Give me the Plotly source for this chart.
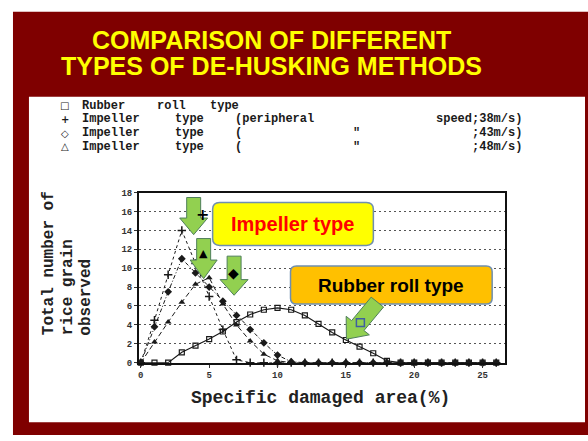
import math
import plotly.graph_objects as go

W, H = 588, 441

# ---------------- data ----------------
x_vals = [0, 1, 2, 3, 4, 5, 6, 7, 8, 9, 10, 11, 12, 13, 14, 15, 16, 17, 18, 19, 20, 21, 22, 23, 24, 25, 26]
rubber = [0, 0, 0, 1.1, 1.8, 2.5, 3.3, 4.3, 5.1, 5.6, 5.8, 5.6, 5.0, 4.1, 3.2, 2.4, 1.7, 1.0, 0.2, 0, 0, 0, 0, 0, 0, 0, 0]
imp38 = [0, 4.5, 9.3, 14.0, 10.5, 7.0, 3.5, 0.3, 0, 0, 0, 0, 0, 0, 0, 0, 0, 0, 0, 0, 0, 0, 0, 0, 0, 0, 0]
imp43 = [0, 3.8, 7.5, 11.0, 9.5, 8.0, 6.5, 5.0, 3.5, 2.1, 0.8, 0.1, 0, 0, 0, 0, 0, 0, 0, 0, 0, 0, 0, 0, 0, 0, 0]
imp48 = [0, 2.2, 4.3, 6.4, 8.3, 9.0, 6.2, 4.0, 2.3, 0.9, 0.2, 0, 0, 0, 0, 0, 0, 0, 0, 0, 0, 0, 0, 0, 0, 0, 0]
x_ticks = [0, 5, 10, 15, 20, 25]
y_ticks = [0, 2, 4, 6, 8, 10, 12, 14, 16, 18]

title_lines = ["COMPARISON OF DIFFERENT", "TYPES OF DE-HUSKING METHODS"]
x_title = "Specific damaged area(%)"
y_title_lines = ["Total number of", "rice grain", "observed"]

# ---------------- helpers (pixel -> paper) ----------------
def X(p):
    return p / W

def Y(p):
    return 1 - p / H

def path_from(points, closed=True):
    s = "M %.5f %.5f" % (X(points[0][0]), Y(points[0][1]))
    for (a, b) in points[1:]:
        s += " L %.5f %.5f" % (X(a), Y(b))
    if closed:
        s += " Z"
    return s

def rounded_rect(x0, y0, x1, y1, r):
    def P(a, b):
        return "%.5f %.5f" % (X(a), Y(b))
    return ("M " + P(x0 + r, y0) + " L " + P(x1 - r, y0) + " Q " + P(x1, y0) + " " + P(x1, y0 + r) +
            " L " + P(x1, y1 - r) + " Q " + P(x1, y1) + " " + P(x1 - r, y1) +
            " L " + P(x0 + r, y1) + " Q " + P(x0, y1) + " " + P(x0, y1 - r) +
            " L " + P(x0, y0 + r) + " Q " + P(x0, y0) + " " + P(x0 + r, y0) + " Z")

def arrow(tx, ty, px_, py_, bw, hw, hl):
    dx, dy = px_ - tx, py_ - ty
    L = math.hypot(dx, dy)
    ux, uy = dx / L, dy / L
    nx, ny = -uy, ux
    hbx, hby = px_ - ux * hl, py_ - uy * hl
    pts = [(tx + nx * bw, ty + ny * bw), (hbx + nx * bw, hby + ny * bw), (hbx + nx * hw, hby + ny * hw),
           (px_, py_), (hbx - nx * hw, hby - ny * hw), (hbx - nx * bw, hby - ny * bw),
           (tx - nx * bw, ty - ny * bw)]
    return path_from(pts)

fig = go.Figure()

ink = "#1a1a1a"
fig.add_trace(go.Scatter(x=x_vals, y=rubber, mode="lines+markers", name="Rubber roll type",
                         line=dict(color=ink, width=1.2),
                         marker=dict(symbol="square-open", size=5, color=ink, line=dict(width=1.2)),
                         cliponaxis=False))
fig.add_trace(go.Scatter(x=x_vals, y=imp38, mode="lines+markers", name="Impeller type 38m/s",
                         line=dict(color=ink, width=1, dash="dot"),
                         marker=dict(symbol="cross-thin-open", size=6, color=ink, line=dict(width=1.5, color=ink)),
                         cliponaxis=False))
fig.add_trace(go.Scatter(x=x_vals, y=imp43, mode="lines+markers", name="Impeller type 43m/s",
                         line=dict(color=ink, width=1, dash="4px,2px,1px,2px"),
                         marker=dict(symbol="diamond", size=6, color=ink),
                         cliponaxis=False))
fig.add_trace(go.Scatter(x=x_vals, y=imp48, mode="lines+markers", name="Impeller type 48m/s",
                         line=dict(color=ink, width=1, dash="5px,3px"),
                         marker=dict(symbol="triangle-up", size=6, color=ink),
                         cliponaxis=False))

shapes = []
# dark red slide background and white panel
shapes.append(dict(type="rect", xref="paper", yref="paper", x0=X(12), x1=X(588), y0=Y(441), y1=Y(8),
                   fillcolor="#7F0000", line=dict(width=0), layer="below"))
shapes.append(dict(type="rect", xref="paper", yref="paper", x0=X(28), x1=X(585), y0=Y(428), y1=Y(95),
                   fillcolor="#FFFFFF", line=dict(width=0), layer="below"))

green = "#92D050"
gborder = "#4F7F5A"
# callout boxes
shapes.append(dict(type="path", xref="paper", yref="paper", path=rounded_rect(212, 203, 373, 247, 7),
                   fillcolor="#FFFF00", line=dict(color="#6F8FAF", width=1.5), layer="above"))
shapes.append(dict(type="path", xref="paper", yref="paper", path=rounded_rect(290, 268, 492, 307, 6),
                   fillcolor="#FFC000", line=dict(color="#6F8FAF", width=1.5), layer="above"))
# green arrows
for a in [(193, 198, 193, 236, 7, 14, 17), (203, 240, 203, 281, 7, 13.5, 19),
          (233.5, 258, 233.5, 298, 7, 14, 16), (377, 305, 346, 343, 8, 15, 18)]:
    shapes.append(dict(type="path", xref="paper", yref="paper", path=arrow(*a),
                       fillcolor=green, line=dict(color=gborder, width=1), layer="above"))
# square marker on rubber-roll arrow
shapes.append(dict(type="rect", xref="paper", yref="paper", x0=X(356), x1=X(364), y0=Y(330), y1=Y(322),
                   fillcolor=green, line=dict(color="#3F5F9F", width=1.5), layer="above"))

ann = []
# title
for txt, yy in zip(title_lines, [37, 63]):
    ann.append(dict(text=txt, x=X(271), y=Y(yy), xref="paper", yref="paper", showarrow=False,
                    xanchor="center", yanchor="middle",
                    font=dict(family="Liberation Sans", size=25, color="#FFFF00", weight="bold")))

# legend-like text block
mono = dict(family="Liberation Mono", size=12, color="#1a1a1a", weight="bold")
rows = [104, 118, 132, 146]
symbols = ["□", "+", "◇", "△"]
for s, yy in zip(symbols, rows):
    ann.append(dict(text=s, x=X(64), y=Y(yy), xref="paper", yref="paper", showarrow=False,
                    xanchor="center", yanchor="middle", borderpad=0,
                    font=dict(family="DejaVu Sans", size=10, color="#1a1a1a", weight="bold")))
words = [
    (0, "Rubber", 80), (0, "roll", 155), (0, "type", 208),
    (1, "Impeller", 80), (1, "type", 173), (1, "(peripheral", 233),
    (2, "Impeller", 80), (2, "type", 173), (2, "(", 233),
    (3, "Impeller", 80), (3, "type", 173), (3, "(", 233),
]
for r, w, xx in words:
    ann.append(dict(text=w, x=X(xx), y=Y(rows[r]), xref="paper", yref="paper", showarrow=False,
                    xanchor="left", yanchor="middle", borderpad=0, font=mono))
for r, w in [(1, "speed;38m/s)"), (2, ";43m/s)"), (3, ";48m/s)")]:
    ann.append(dict(text=w, x=X(523), y=Y(rows[r]), xref="paper", yref="paper", showarrow=False,
                    xanchor="right", yanchor="middle", borderpad=0, font=mono))
for r in [2, 3]:
    ann.append(dict(text='"', x=X(356), y=Y(rows[r]), xref="paper", yref="paper", showarrow=False,
                    xanchor="center", yanchor="middle", borderpad=0, font=mono))

# axis titles
ann.append(dict(text=x_title, x=X(320), y=Y(403), xref="paper", yref="paper", showarrow=False,
                xanchor="center", yanchor="middle",
                font=dict(family="Liberation Mono", size=18, color="#222222", weight="bold")))
for txt, xx in zip(y_title_lines, [48, 67, 85]):
    ann.append(dict(text=txt, x=X(xx), y=Y(340), xref="paper", yref="paper", showarrow=False,
                    textangle=-90, xanchor="center", yanchor="bottom", borderpad=0,
                    font=dict(family="Liberation Mono", size=16, color="#222222", weight="bold")))

# callout texts
ann.append(dict(text="Impeller type", x=X(292), y=Y(225), xref="paper", yref="paper", showarrow=False,
                xanchor="center", yanchor="middle",
                font=dict(family="Liberation Sans", size=20, color="#FF0000", weight="bold")))
ann.append(dict(text="Rubber roll type", x=X(391), y=Y(288), xref="paper", yref="paper", showarrow=False,
                xanchor="center", yanchor="middle",
                font=dict(family="Liberation Sans", size=19, color="#000000", weight="bold")))
# symbols on arrows
ann.append(dict(text="+", x=X(193), y=Y(215), xref="paper", yref="paper", showarrow=False,
                font=dict(family="DejaVu Sans", size=16, color="#000000", weight="bold")))
ann.append(dict(text="▲", x=X(203), y=Y(255), xref="paper", yref="paper", showarrow=False,
                font=dict(family="DejaVu Sans", size=11, color="#000000")))
ann.append(dict(text="◆", x=X(233), y=Y(275), xref="paper", yref="paper", showarrow=False,
                font=dict(family="DejaVu Sans", size=14, color="#000000")))

tickfont = dict(family="Liberation Mono", size=9, color="#333333", weight="bold")
fig.update_layout(
    width=W, height=H,
    margin=dict(l=0, r=0, t=0, b=0),
    paper_bgcolor="#FFFFFF",
    plot_bgcolor="rgba(0,0,0,0)",
    showlegend=False,
    shapes=shapes,
    annotations=ann,
    xaxis=dict(domain=[X(138), X(505)], range=[-0.15, 26.65], tickvals=x_ticks,
               ticktext=[str(v) for v in x_ticks], showgrid=False, zeroline=False,
               showline=True, linecolor="#111111", linewidth=2, mirror=True,
               ticks="outside", ticklen=3, tickcolor="#333333", tickfont=tickfont),
    yaxis=dict(domain=[Y(367), Y(193)], range=[0, 18], tickvals=y_ticks,
               ticktext=[str(v) for v in y_ticks], showgrid=True, gridcolor="#555555",
               griddash="2px,3px", gridwidth=1.2, zeroline=False,
               showline=True, linecolor="#111111", linewidth=1.5, mirror=True,
               ticks="outside", ticklen=3, tickcolor="#333333", tickfont=tickfont),
)

fig.write_html("out.html", config={"displayModeBar": False},
               post_script="document.body.style.margin='0px';document.body.style.overflow='hidden';")
